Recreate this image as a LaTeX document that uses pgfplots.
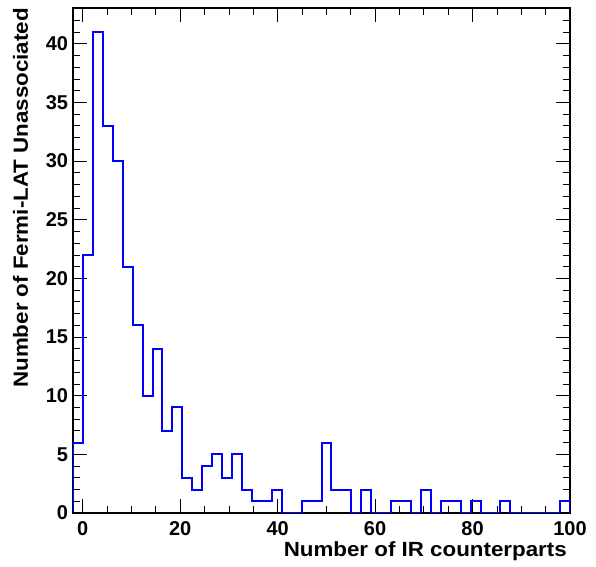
\documentclass[border=0pt]{standalone}
\usepackage{pgfplots}
\pgfplotsset{compat=1.18}
\usepackage{fontspec}
\setmainfont{Liberation Sans}
\newfontfamily\labelfont[FakeStretch=1.09]{Liberation Sans}
\begin{document}
\begin{tikzpicture}
\begin{axis}[
  name=ax,
  scale only axis,
  width=497bp, height=505bp,
  xmin=-2, xmax=100, ymin=0, ymax=43.05,
  axis line style={line width=1.1bp},
  xtick={0,20,40,60,80,100},
  ytick={0,5,...,40},
  minor xtick={5,10,15,25,30,35,45,50,55,65,70,75,85,90,95},
  minor ytick={1,2,...,43},
  tick align=inside,
  tick pos=both,
  major tick length=14bp,
  minor tick length=7bp,
  every tick/.style={black, line width=0.8bp},
  /pgf/number format/assume math mode=true,
  ticklabel style={font=\fontsize{20bp}{24bp}\selectfont\bfseries, inner sep=0pt},
  xticklabel style={anchor=north, yshift=-8.5bp},
  yticklabel style={anchor=east, xshift=-4.7bp},
  label style={font=\labelfont\fontsize{20.5bp}{24bp}\selectfont\bfseries, inner sep=0pt},
  xlabel={Number of IR counterparts},
  xlabel style={at={(axis description cs:0.994,-0.0568)}, anchor=north east},
  ylabel={Number of Fermi-LAT Unassociated},
  ylabel style={at={(axis description cs:-0.1056,1)}, anchor=east},
]
\addplot[const plot, draw={rgb,255:red,0;green,0;blue,255}, line width=2bp] coordinates {
(-2,0) (-2,6) (0.04,22) (2.08,41) (4.12,33) (6.16,30) (8.2,21) (10.24,16) (12.28,10)
(14.32,14) (16.36,7) (18.4,9) (20.44,3) (22.48,2) (24.52,4) (26.56,5) (28.6,3)
(30.64,5) (32.68,2) (34.72,1) (36.76,1) (38.8,2) (40.84,0) (42.88,0) (44.92,1)
(46.96,1) (49,6) (51.04,2) (53.08,2) (55.12,0) (57.16,2) (59.2,0) (61.24,0)
(63.28,1) (65.32,1) (67.36,0) (69.4,2) (71.44,0) (73.48,1) (75.52,1) (77.56,0)
(79.6,1) (81.64,0) (83.68,0) (85.72,1) (87.76,0) (89.8,0) (91.84,0) (93.88,0)
(95.92,0) (97.96,1) (100,1) (100,0)
};
\end{axis}
\pgfresetboundingbox
\path[use as bounding box] ([shift={(-73bp,-54bp)}]ax.south west) rectangle ([shift={(26bp,8bp)}]ax.north east);
\end{tikzpicture}
\end{document}
